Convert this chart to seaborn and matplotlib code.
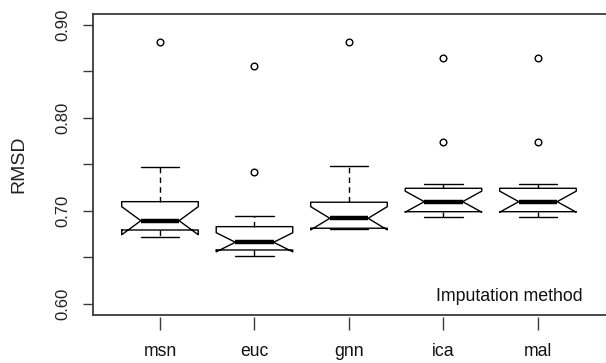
import matplotlib
matplotlib.use("Agg")
import matplotlib.pyplot as plt
import seaborn as sns

# ---- data ----
methods = ["msn", "euc", "gnn", "ica", "mal"]
whisker_low = [0.6721, 0.6513, 0.6806, 0.6936, 0.6936]
q1 = [0.6793, 0.6578, 0.6812, 0.6990, 0.6990]
median = [0.6893, 0.6661, 0.6919, 0.7098, 0.7098]
q3 = [0.7098, 0.6829, 0.7092, 0.7242, 0.7242]
whisker_high = [0.7468, 0.6944, 0.7482, 0.7289, 0.7289]
notch_low = [0.6742, 0.6558, 0.6794, 0.6985, 0.6985]
notch_high = [0.7044, 0.6764, 0.7044, 0.7211, 0.7211]
outliers = [[0.8814], [0.7421, 0.8562], [0.8814], [0.8641, 0.7740], [0.8641, 0.7740]]
ytick_values = [0.60, 0.65, 0.70, 0.75, 0.80, 0.85, 0.90]
ytick_labels = ["0.60", "", "0.70", "", "0.80", "", "0.90"]

sns.set_theme(style="white")
plt.rcParams["font.family"] = ["Liberation Sans", "DejaVu Sans"]

fig = plt.figure(figsize=(6.06, 3.63), dpi=100)
ax = fig.add_axes([93 / 606, 1 - 315 / 363, 1 - 93 / 606, (315 - 14) / 363])

stats = []
for i, m in enumerate(methods):
    stats.append(dict(label=m, whislo=whisker_low[i], q1=q1[i], med=median[i],
                      q3=q3[i], whishi=whisker_high[i], cilo=notch_low[i],
                      cihi=notch_high[i], fliers=outliers[i]))

positions = list(range(1, len(methods) + 1))
ax.bxp(stats, positions=positions, widths=0.81, shownotches=True,
       manage_ticks=False,
       boxprops=dict(color="black", linewidth=1.0),
       whiskerprops=dict(color="black", linewidth=1.0, linestyle=(0, (4, 3))),
       capprops=dict(color="black", linewidth=1.0),
       medianprops=dict(color="black", linewidth=3.2, solid_capstyle="butt"),
       flierprops=dict(marker="o", markerfacecolor="none", markeredgecolor="black",
                       markersize=4.8, markeredgewidth=1.0, linestyle="none"))

ax.set_xlim(0.291, 5.72)
ax.set_ylim(0.5878, 0.9118)

for side in ["left", "top", "bottom"]:
    ax.spines[side].set_visible(True)
    ax.spines[side].set_color("#3a3a3a")
    ax.spines[side].set_linewidth(1.3)
ax.spines["right"].set_visible(False)

ax.set_yticks(ytick_values)
ax.set_yticklabels(ytick_labels)
ax.tick_params(axis="y", left=True, direction="out", length=7, width=1.0,
               color="#3a3a3a", pad=9, labelsize=12, labelcolor="#222222",
               labelrotation=90)
for lab in ax.get_yticklabels():
    lab.set_verticalalignment("center")

ax.tick_params(axis="x", bottom=False, labelbottom=False)

sec = ax.secondary_xaxis(location=-0.0066)
sec.set_xticks(positions)
sec.set_xticklabels(methods)
sec.spines["bottom"].set_visible(False)
sec.tick_params(axis="x", direction="out", length=9, width=1.0, color="#3a3a3a",
                pad=10, labelsize=12.7, labelcolor="#111111")

ax.set_ylabel("RMSD", fontsize=14, color="#222222")
ax.yaxis.set_label_coords(-0.128, 0.5)

ax.text(0.955, 0.06, "Imputation method", transform=ax.transAxes,
        ha="right", va="center", fontsize=12.8, color="#111111")

fig.savefig("out.png", dpi=100)
